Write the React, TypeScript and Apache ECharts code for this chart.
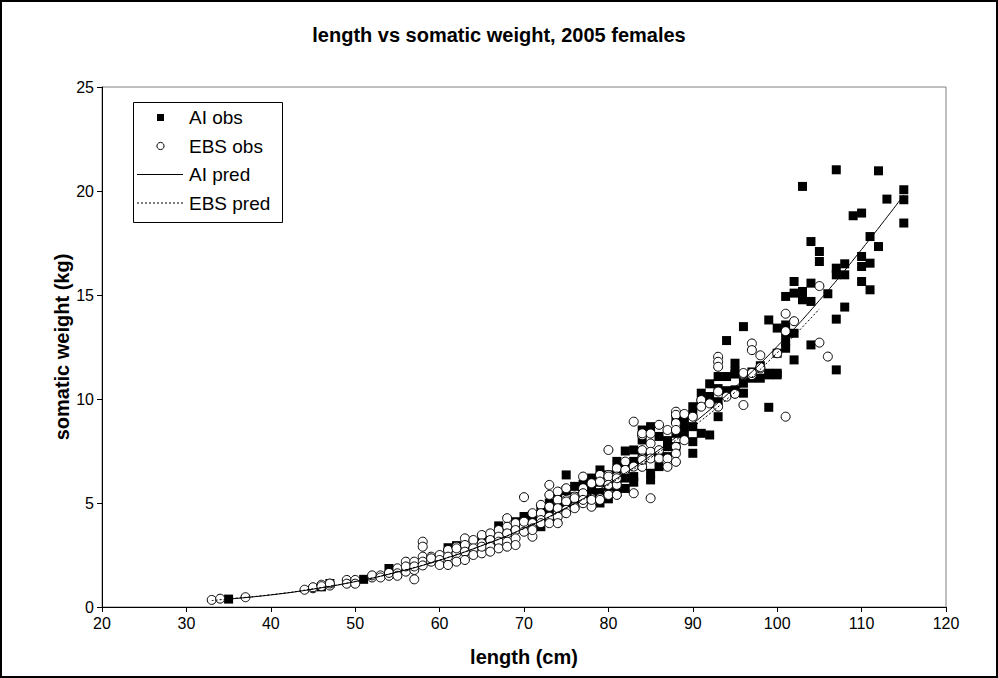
import React, { useEffect, useRef } from "react";
import * as echarts from "echarts";

const titleText = "length vs somatic weight, 2005 females";
const xAxisTitle = "length (cm)";
const yAxisTitle = "somatic weight (kg)";
const legendNames = ["AI obs", "EBS obs", "AI pred", "EBS pred"];

const aiObs: [number, number][] = [
  [35, 0.38], [46, 0.97], [47, 1.13], [51, 1.33], [54, 1.85], [60, 2.2], [61, 2.85], [62, 2.95],
  [63, 2.7], [65, 3.1], [66, 3.2], [67, 3.9], [68, 3.6], [69, 4.1], [70, 4.35], [70, 3.75],
  [71, 4.4], [71, 4.0], [72, 4.6], [72, 3.86], [73, 5.0], [73, 4.6], [73, 4.2], [74, 5.3],
  [74, 4.8], [75, 6.35], [75, 5.6], [75, 5.0], [76, 5.8], [76, 5.3], [76, 4.9], [77, 5.9],
  [77, 5.5], [77, 5.1], [78, 6.2], [78, 5.7], [78, 5.4], [79, 6.59], [79, 6.0], [79, 5.5],
  [79, 5.0], [80, 6.35], [80, 5.8], [80, 5.2], [81, 7.0], [81, 6.4], [81, 6.0], [81, 5.5],
  [82, 7.5], [82, 6.8], [82, 6.2], [82, 5.7], [83, 7.55], [83, 7.0], [83, 6.27], [83, 6.0],
  [84, 8.51], [84, 8.03], [84, 7.3], [84, 6.8], [85, 8.67], [85, 7.2], [85, 6.43], [85, 6.11],
  [86, 8.2], [86, 7.4], [86, 6.75], [87, 8.0], [87, 7.71], [87, 7.23], [88, 9.0], [88, 8.35],
  [88, 7.71], [89, 9.08], [89, 8.7], [89, 8.35], [90, 9.63], [90, 9.24], [90, 8.67], [90, 7.95],
  [90, 7.39], [91, 10.28], [91, 9.8], [91, 8.35], [92, 10.73], [92, 10.12], [92, 8.27],
  [93, 11.08], [93, 10.5], [93, 9.87], [93, 9.15], [94, 12.81], [94, 11.08], [94, 10.4],
  [95, 11.72], [95, 11.32], [95, 11.2], [95, 10.44], [96, 13.48], [96, 11.08], [96, 10.76],
  [96, 10.28], [97, 11.3], [97, 11.0], [98, 11.6], [98, 11.0], [99, 13.8], [99, 11.24],
  [99, 11.16], [99, 9.6], [100, 13.41], [100, 12.2], [100, 11.24], [100, 11.16], [101, 14.93],
  [101, 13.56], [101, 13.17], [101, 12.76], [101, 12.44], [102, 15.65], [102, 15.09],
  [102, 13.16], [102, 11.88], [103, 20.22], [103, 15.17], [103, 14.77], [104, 17.57],
  [104, 15.57], [104, 14.69], [104, 12.6], [105, 17.09], [105, 16.61], [106, 15.06],
  [107, 21.02], [107, 16.29], [107, 15.97], [107, 13.84], [107, 11.4], [108, 16.5],
  [108, 15.97], [108, 14.42], [109, 18.81], [110, 18.94], [110, 16.85], [110, 16.37],
  [110, 15.65], [111, 17.81], [111, 16.53], [111, 15.25], [112, 20.97], [112, 17.33],
  [113, 19.61], [115, 20.06], [115, 19.58], [115, 18.46],
];

const ebsObs: [number, number][] = [
  [33, 0.34], [34, 0.4], [37, 0.47], [44, 0.83], [45, 0.9], [45, 0.95], [46, 1.07], [46, 1.0],
  [47, 1.03], [47, 1.13], [49, 1.3], [49, 1.12], [50, 1.3], [50, 1.12], [52, 1.42], [52, 1.52],
  [53, 1.52], [53, 1.42], [54, 1.5], [54, 1.64], [55, 1.86], [55, 1.62], [55, 1.5], [56, 2.18],
  [56, 1.7], [56, 1.95], [57, 2.18], [57, 1.78], [57, 1.33], [57, 1.95], [58, 3.14], [58, 2.9],
  [58, 2.42], [58, 2.18], [58, 2.0], [59, 2.42], [59, 2.18], [59, 2.34], [60, 2.5], [60, 2.26],
  [60, 2.02], [61, 2.74], [61, 2.42], [61, 2.02], [62, 2.9], [62, 2.58], [62, 2.18], [62, 2.82],
  [63, 3.3], [63, 2.98], [63, 2.66], [63, 2.26], [64, 3.22], [64, 2.82], [64, 2.5], [65, 3.46],
  [65, 3.06], [65, 2.58], [65, 2.9], [66, 3.54], [66, 3.22], [66, 2.9], [66, 2.66], [67, 3.7],
  [67, 3.38], [67, 3.14], [67, 2.82], [68, 4.27], [68, 3.86], [68, 3.54], [68, 3.14], [68, 2.9],
  [69, 4.03], [69, 3.7], [69, 3.3], [69, 2.98], [70, 5.28], [70, 3.86], [70, 3.62], [70, 4.1],
  [71, 4.51], [71, 4.03], [71, 3.78], [71, 3.38], [71, 3.7], [72, 4.91], [72, 4.51], [72, 4.18],
  [72, 4.03], [73, 5.87], [73, 5.39], [73, 4.82], [73, 4.34], [73, 4.03], [74, 5.55], [74, 5.15],
  [74, 4.75], [74, 4.34], [74, 4.03], [75, 5.71], [75, 5.15], [75, 5.07], [75, 4.67], [75, 4.51],
  [76, 5.31], [76, 5.23], [76, 4.82], [76, 4.75], [77, 6.27], [77, 5.71], [77, 5.47], [77, 4.99],
  [77, 5.15], [78, 5.95], [78, 5.23], [78, 4.82], [78, 5.15], [79, 6.35], [79, 6.03], [79, 5.23],
  [79, 5.15], [80, 7.55], [80, 6.35], [80, 6.27], [80, 5.87], [80, 5.39], [81, 6.67], [81, 6.27],
  [81, 5.87], [81, 5.39], [81, 6.19], [82, 6.99], [82, 6.59], [83, 8.91], [83, 6.75], [83, 5.47],
  [84, 8.26], [84, 7.54], [84, 7.14], [84, 6.74], [84, 8.35], [84, 7.07], [85, 8.34], [85, 7.86],
  [85, 7.46], [85, 7.14], [85, 5.23], [86, 8.76], [86, 7.54], [86, 7.14], [87, 8.51], [87, 7.14],
  [87, 6.74], [88, 9.39], [88, 9.24], [88, 8.84], [88, 8.51], [88, 7.7], [88, 7.38], [88, 6.98],
  [89, 9.28], [89, 8.02], [90, 9.15], [91, 9.95], [91, 9.63], [92, 9.79], [93, 12.03],
  [93, 11.79], [93, 11.55], [93, 10.36], [93, 9.63], [94, 10.11], [95, 10.27], [95, 10.25],
  [96, 11.15], [96, 9.71], [96, 11.2], [96, 11.25], [97, 12.67], [97, 12.35], [97, 11.15],
  [97, 11.25], [98, 12.1], [98, 11.47], [98, 11.53], [100, 12.2], [101, 14.1], [101, 13.26],
  [101, 9.15], [102, 13.74], [105, 15.43], [105, 12.71], [106, 12.04],
];

const aiPredLength = [35, 40, 45, 50, 55, 60, 65, 70, 75, 80, 85, 90, 95, 100, 105, 110, 115];
const aiPredWeight = [0.38, 0.58, 0.86, 1.22, 1.68, 2.25, 2.95, 3.78, 4.77, 5.93, 7.27, 8.81, 10.56, 12.53, 14.74, 17.19, 19.8];
const ebsPredLength = [33, 35, 40, 45, 50, 55, 60, 65, 70, 75, 80, 85, 90, 95, 100, 105];
const ebsPredWeight = [0.31, 0.39, 0.59, 0.87, 1.23, 1.69, 2.26, 2.95, 3.77, 4.74, 5.87, 7.17, 8.65, 10.33, 12.22, 14.33];

const xTicks = { min: 20, max: 120, interval: 10 };
const yTicks = { min: 0, max: 25, interval: 5 };

const FONT = "'Liberation Sans', Arial, sans-serif";

export default function App() {
  const ref = useRef<HTMLDivElement>(null);
  useEffect(() => {
    if (!ref.current) return;
    const chart = echarts.init(ref.current, undefined, { renderer: "svg" });
    const gl = 102, gt = 87, gr = 946, gb = 607;
    const lx = 133, ly = 102, lw = 149, lh = 120;
    const rowY = [117.5, 146, 174.5, 203];
    chart.setOption({
      animation: false,
      backgroundColor: "#ffffff",
      grid: {
        left: gl, top: gt, width: gr - gl, height: gb - gt,
        show: true, borderColor: "#808080", borderWidth: 1, backgroundColor: "transparent",
      },
      xAxis: {
        type: "value", min: xTicks.min, max: xTicks.max, interval: xTicks.interval,
        axisLine: { show: true, onZero: false, lineStyle: { color: "#000", width: 1 } },
        axisTick: { show: true, inside: false, length: 5, lineStyle: { color: "#000" } },
        axisLabel: { color: "#000", fontSize: 16, fontFamily: FONT, margin: 8 },
        splitLine: { show: false },
      },
      yAxis: {
        type: "value", min: yTicks.min, max: yTicks.max, interval: yTicks.interval,
        axisLine: { show: true, onZero: false, lineStyle: { color: "#000", width: 1 } },
        axisTick: { show: true, inside: false, length: 5, lineStyle: { color: "#000" } },
        axisLabel: { color: "#000", fontSize: 16, fontFamily: FONT, margin: 8 },
        splitLine: { show: false },
      },
      series: [
        {
          name: legendNames[0], type: "scatter", data: aiObs, symbol: "rect", symbolSize: 9,
          itemStyle: { color: "#000", borderColor: "#000", borderWidth: 0, opacity: 1 },
          z: 2,
        },
        {
          name: legendNames[1], type: "scatter", data: ebsObs, symbol: "circle", symbolSize: 9,
          itemStyle: { color: "#fff", borderColor: "#000", borderWidth: 1, opacity: 1 },
          z: 3,
        },
        {
          name: legendNames[2], type: "line", data: aiPredLength.map((l, i) => [l, aiPredWeight[i]]),
          symbol: "none", smooth: true, lineStyle: { color: "#000", width: 1, type: "solid" }, z: 4,
        },
        {
          name: legendNames[3], type: "line", data: ebsPredLength.map((l, i) => [l, ebsPredWeight[i]]),
          symbol: "none", smooth: true, lineStyle: { color: "#000", width: 1, type: [2, 2] }, z: 5,
        },
      ],
      graphic: [
        { type: "rect", shape: { x: 1, y: 1, width: 996, height: 676 }, style: { fill: "none", stroke: "#000", lineWidth: 2 }, z: 100 },
        { type: "text", x: 499, y: 35, style: { text: titleText, font: `bold 20px ${FONT}`, fill: "#000", textAlign: "center", textVerticalAlign: "middle" } },
        { type: "text", x: (gl + gr) / 2, y: 657, style: { text: xAxisTitle, font: `bold 20px ${FONT}`, fill: "#000", textAlign: "center", textVerticalAlign: "middle" } },
        { type: "text", x: 62, y: (gt + gb) / 2, rotation: Math.PI / 2, style: { text: yAxisTitle, font: `bold 20px ${FONT}`, fill: "#000", textAlign: "center", textVerticalAlign: "middle" } },
        { type: "rect", shape: { x: lx + 0.5, y: ly + 0.5, width: lw, height: lh }, style: { fill: "#fff", stroke: "#000", lineWidth: 1 }, z: 50 },
        { type: "rect", shape: { x: 157, y: rowY[0] - 3.5, width: 7, height: 7 }, style: { fill: "#000" }, z: 51 },
        { type: "circle", shape: { cx: 160.5, cy: rowY[1], r: 3.6 }, style: { fill: "#fff", stroke: "#000", lineWidth: 1 }, z: 51 },
        { type: "line", shape: { x1: 137, y1: rowY[2], x2: 183, y2: rowY[2] }, style: { stroke: "#000", lineWidth: 1 }, z: 51 },
        { type: "line", shape: { x1: 137, y1: rowY[3], x2: 183, y2: rowY[3] }, style: { stroke: "#000", lineWidth: 1, lineDash: [2, 2] }, z: 51 },
        ...legendNames.map((n, i) => ({
          type: "text", x: 189, y: rowY[i], z: 51,
          style: { text: n, font: `19px ${FONT}`, fill: "#000", textAlign: "left", textVerticalAlign: "middle" },
        })),
      ],
    });
    return () => chart.dispose();
  }, []);
  return <div ref={ref} style={{ position: "fixed", left: 0, top: 0, width: 998, height: 678 }} />;
}
